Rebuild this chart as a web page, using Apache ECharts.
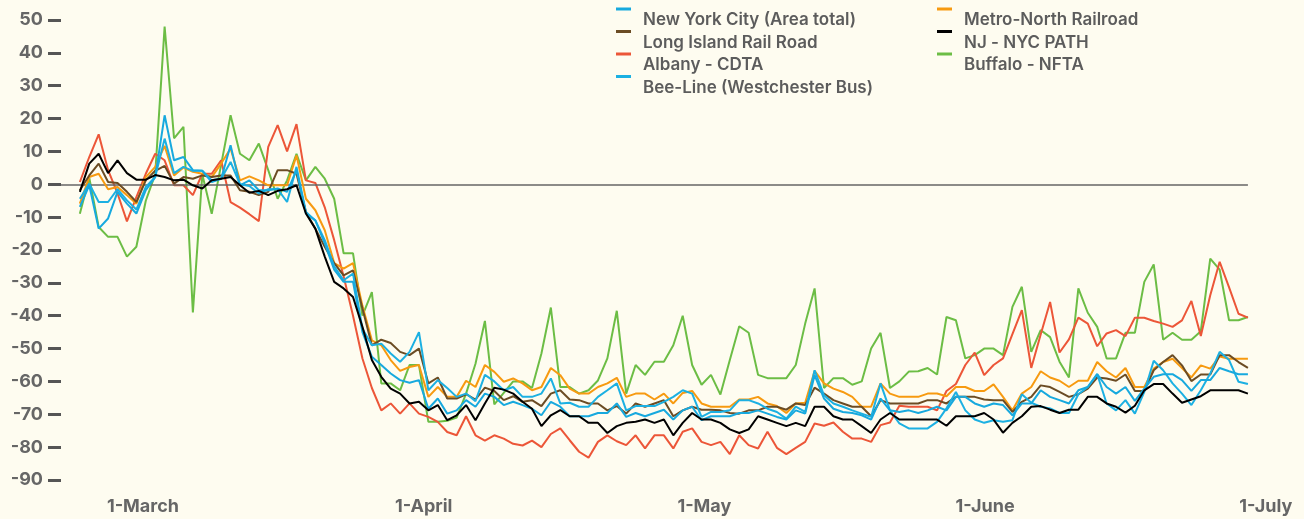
<!DOCTYPE html>
<html>
<head>
<meta charset="utf-8">
<script src="https://cdn.jsdelivr.net/npm/echarts@6/dist/echarts.min.js"></script>
<style>
  html, body { margin: 0; padding: 0; background: #fefcf0; }
  #chart { width: 1304px; height: 519px; }
</style>
</head>
<body>
<div id="chart"></div>
<script>
// x = day index from the first reading; month labels sit evenly spaced like the original
const tickLabels = ['1-March', '1-April', '1-May', '1-June', '1-July']
const tickPositions = [6.7, 36.5, 66.3, 96.1, 125.9]

const nyc = [-6.9, -0.3, -13.5, -10.4, -2.3, -5.9, -8.9, -1.8, 2.2, 21,
  7.3, 8.3, 4.3, 4.1, 0.7, 1.7, 11.9, -0.3, 1.2, -1.8,
  -1.8, -1.3, -2.3, 4.3, -8.9, -11, -18, -26, -29.7, -29.7,
  -45, -52.5, -55, -57.6, -59.6, -60.4, -59.6, -68.3, -65.2, -69.8,
  -68.8, -65.7, -67.7, -63.7, -64.7, -67.2, -66.2, -67.2, -68.3, -70.3,
  -66.2, -67.7, -70.6, -70.6, -70.6, -69.6, -69.6, -66.7, -70.8, -69.6,
  -70.6, -69.6, -68.6, -71.6, -68.8, -67.7, -71.8, -70.6, -70.6, -70.6,
  -69.6, -69.6, -68.8, -69.8, -70.8, -71.6, -68.8, -69.8, -58.1, -65.2,
  -68.3, -69.3, -69.6, -70.3, -71.6, -65.2, -68.8, -69.3, -68.8, -69.6,
  -68.8, -67.7, -68.8, -64.7, -64.7, -66.7, -67.7, -66.7, -67.2, -70.3,
  -66.7, -66.7, -62.7, -64.7, -65.7, -66.7, -62.7, -61.7, -57.8, -61.7,
  -63.7, -61.7, -65.9, -62.2, -58.6, -57.8, -57.8, -59.6, -62.9, -59.6,
  -59.6, -55.9, -56.9, -57.8, -57.8]

const lirr = [-1.8, 2.7, 6.3, 0.7, 0.4, -2.3, -5.4, 1.2, 4.1, 5.6,
  0.2, 2.2, 1.7, 2.7, 2.2, 2.7, 2.7, -1.8, -2.3, -3.3,
  -2.3, 4.3, 4.3, 3.2, -8.4, -13.5, -19, -24, -27.7, -26.2,
  -37.8, -49, -47.3, -48.3, -51, -52, -50, -60.6, -58.8, -65.2,
  -65.2, -63.9, -65.5, -61.9, -62.9, -65.7, -64.5, -66.2, -65.7, -67.5,
  -63.7, -62.7, -65.5, -65.7, -66.7, -66.7, -68.8, -67.5, -69.8, -66.7,
  -67.7, -66.7, -65.7, -70.6, -68.8, -67.7, -68.6, -68.6, -68.8, -69.6,
  -69.8, -68.8, -68.8, -67.7, -67.7, -68.6, -66.7, -67.2, -61.9, -63.7,
  -65.7, -66.7, -67.7, -67.7, -70.6, -65.7, -66.7, -66.7, -66.7, -66.7,
  -65.7, -65.7, -66.7, -64.7, -64.7, -64.7, -65.5, -65.7, -65.7, -69.3,
  -66.2, -64.7, -61.2, -61.7, -63.2, -64.7, -63.9, -62.2, -58.8, -59.1,
  -59.8, -57.9, -62.9, -62.9, -56.6, -54.1, -52, -55.1, -59.9, -57.9,
  -57.9, -52, -52, -54.1, -55.9]

const albany = [0.7, 8.3, 15.2, 4.3, -2.8, -11.3, -3.9, 3.2, 9.3, 7.3,
  -0.3, -0.3, -3.3, 3.2, 3.2, 7.3, -5.4, -7.1, -9.1, -11.2,
  11.4, 18, 10, 18.3, 1.2, 0.4, -7, -17, -28, -40,
  -53, -62, -68.8, -66.7, -69.8, -66.7, -69.8, -70.8, -72.3, -75.4,
  -76.4, -70.6, -76.4, -78, -76.4, -77.4, -79, -79.5, -78, -80,
  -76, -74.3, -77.9, -81.4, -83.2, -78.4, -76.4, -78.2, -79.4, -76.4,
  -80.4, -76.4, -76.4, -80.4, -75.3, -74.3, -78.4, -79.4, -78.4, -82.1,
  -76.4, -79.4, -80.4, -75.3, -80.2, -82.1, -80.2, -78.4, -72.8, -73.5,
  -72.5, -75.3, -77.4, -77.4, -78.4, -73.3, -72.5, -67.4, -67.7, -67.7,
  -67.7, -68.8, -62.9, -60.8, -55, -51.2, -58.1, -55, -53, -45.6,
  -38.3, -55.9, -45.7, -35.8, -51.2, -47.2, -40.6, -42.4, -49.3, -45.4,
  -44.4, -46.2, -40.6, -40.6, -41.6, -42.4, -43.4, -41.4, -35.5, -46.2,
  -33.8, -23.6, -31.4, -39.4, -40.6]

const beeLine = [-4.4, 0.2, -5.4, -5.4, -1.5, -4.9, -7.7, -0.8, 2.2, 13.9,
  3.4, 5.3, 4.1, 4.1, 1.2, 1.7, 6.8, 0, -0.5, -2.8,
  -1.5, -1.5, -5.4, 5.3, -8.4, -11, -17, -25, -29.2, -27.2,
  -44, -49, -48.5, -51.5, -54, -51, -45, -62.7, -59.6, -62,
  -64.7, -63.7, -66, -58, -60, -62.7, -61.7, -64.7, -64.7, -63.7,
  -59.1, -66.7, -66.5, -67.7, -67.7, -64.7, -62.7, -60.6, -68.8, -67.5,
  -67.5, -67.5, -66.2, -64.7, -62.7, -63.7, -70.8, -69.3, -69.3, -68.8,
  -65.7, -65.7, -66.7, -68.3, -69.3, -71.3, -67.7, -69.3, -56.6, -64.2,
  -66.7, -67.7, -68.8, -69.8, -70.8, -60.6, -68.8, -72.8, -74.3, -74.3,
  -74.3, -72.3, -68.2, -63.2, -68.8, -71.6, -72.6, -71.8, -72.3, -71.8,
  -63.9, -66.5, -67.7, -68.2, -69.6, -69.6, -63.9, -61.7, -57.8, -66.7,
  -68.8, -65.7, -69.8, -63.2, -53.7, -56.6, -60.6, -63.7, -67.2, -62.7,
  -57.6, -51, -53.5, -60.1, -60.8]

const metroNorth = [-5.9, 2.2, 3.2, -1.5, -0.8, -3.3, -5.9, 2.2, 5.3, 11.7,
  2.7, 5.1, 3.8, 3.2, 2.2, 6.3, 10.9, 1.2, 2.4, 1.2,
  -0.3, -0.3, -0.3, 8.8, -4.4, -7.9, -14, -24, -25.7, -24,
  -37, -47.5, -49, -53.5, -56.8, -55.6, -55, -64.7, -61.7, -64.7,
  -64.7, -59.8, -61.7, -55, -57.1, -60.1, -59.1, -60.6, -62.7, -61.7,
  -55.9, -58.1, -62.2, -63.7, -63.7, -61.7, -60.6, -58.9, -64.7, -63.7,
  -63.7, -65.5, -63.7, -66.7, -63.5, -62.9, -66.7, -67.7, -67.7, -67.7,
  -65.5, -65.5, -64.7, -66.7, -67.5, -69.6, -66.7, -66.5, -56.8, -60.6,
  -62.2, -63.2, -64.7, -67.7, -67.7, -60.6, -63.7, -64.7, -64.7, -64.7,
  -63.7, -63.7, -64.5, -61.7, -61.7, -62.9, -62.9, -60.9, -64.7, -68.8,
  -63.7, -61.7, -56.9, -58.8, -59.8, -61.7, -59.8, -59.8, -54.1, -56.9,
  -58.8, -55.9, -61.7, -61.7, -56.1, -54.1, -53.1, -55.9, -58.8, -55.1,
  -56.1, -52.4, -53.1, -53.1, -53.1]

const path = [-2.3, 6.3, 9.3, 3.4, 7.3, 3.4, 1.4, 1.4, 2.8, 2.2,
  1.2, 1.4, -0.3, -1.3, 1.2, 1.7, 2.2, -0.3, -2.6, -2,
  -3.3, -2, -1.5, -0.3, -8.9, -13.5, -22, -29.7, -31.7, -34.3,
  -43.4, -53.5, -58.6, -62.2, -63.7, -66.7, -66.2, -68.8, -67.2, -71.8,
  -70.3, -67.2, -71.8, -66.7, -61.9, -62.5, -63.7, -66.2, -68.3, -73.6,
  -70.3, -68.7, -70.6, -70.6, -72.6, -72.6, -75.7, -73.6, -72.6, -72.3,
  -71.6, -72.6, -71.6, -76.4, -72.6, -69.6, -71.6, -71.6, -72.6, -74.6,
  -75.7, -74.6, -70.6, -71.6, -72.6, -73.6, -72.6, -73.6, -67.7, -67.7,
  -70.6, -71.6, -71.6, -73.6, -75.7, -71.6, -69.6, -71.6, -71.6, -71.6,
  -71.6, -71.6, -73.5, -70.6, -70.6, -70.6, -69.6, -71.6, -75.6, -72.6,
  -70.6, -67.7, -67.5, -68.6, -69.6, -68.6, -68.6, -64.7, -64.7, -66.7,
  -67.7, -69.5, -67.4, -62.7, -60.8, -60.8, -63.7, -66.5, -65.5, -64.5,
  -62.7, -62.7, -62.7, -62.7, -63.7]

const buffalo = [-9, 2, -13, -16, -16, -22, -19, -5, 3, 48,
  14, 17.5, -39, 3, -9, 6, 21, 9.3, 7.3, 12.4,
  4.3, -4.4, 1.2, 9.3, 1.2, 5.3, 1.7, -4.4, -21, -21,
  -40, -32.8, -60.6, -60.6, -62.7, -55, -55, -72.3, -72.3, -72,
  -71, -63.7, -54.6, -41.6, -67, -63.5, -60, -60, -62, -51.5,
  -37.5, -61.7, -61.7, -63.7, -62.7, -59.7, -53, -38.5, -63.7, -55,
  -58, -54, -54, -49, -40, -55, -61, -58, -64, -53.5,
  -43.2, -45.2, -58, -59, -59, -59, -55, -42.4, -31.7, -62,
  -59, -59, -61, -60, -50, -45.2, -62, -60, -57, -56.9,
  -55.9, -57.9, -40.4, -41.4, -53, -52, -50, -50, -52, -37.3,
  -31.2, -51, -44.4, -46.5, -54, -58.8, -31.7, -39.1, -43.4, -53,
  -53, -45.2, -45.2, -29.7, -24.4, -47.3, -45.2, -47.3, -47.3, -44.7,
  -22.6, -26, -41.4, -41.4, -40.4]

const lines = [
  { name: 'Buffalo - NFTA', values: buffalo, color: '#6cbd45' },
  { name: 'Albany - CDTA', values: albany, color: '#ec5638' },
  { name: 'Metro-North Railroad', values: metroNorth, color: '#f79a10' },
  { name: 'Long Island Rail Road', values: lirr, color: '#6b4c24' },
  { name: 'Bee-Line (Westchester Bus)', values: beeLine, color: '#1cb0e2' },
  { name: 'New York City (Area total)', values: nyc, color: '#17a9de' },
  { name: 'NJ - NYC PATH', values: path, color: '#000000' },
]

const lastDay = nyc.length - 1
const font = 'Inter, "Noto Sans", sans-serif'
const legendIcon = 'path://M0,0h15v3h-15z M21.99,24.99h0.01v0.01h-0.01z'

const legendBase = {
  orient: 'vertical',
  top: 7.5,
  padding: 0,
  itemWidth: 22,
  itemHeight: 25,
  itemGap: -2.5,
  icon: legendIcon,
  selectedMode: false,
  itemStyle: { borderWidth: 0 },
  textStyle: { color: '#5c5c5c', fontSize: 17, fontWeight: 600, fontFamily: font },
}

const chart = echarts.init(document.getElementById('chart'))
chart.setOption({
  animation: false,
  backgroundColor: '#fefcf0',
  textStyle: { fontFamily: font },
  grid: { left: 61, right: 18.4, top: 20, bottom: 39, containLabel: false, outerBoundsMode: 'none' },
  legend: [
    { ...legendBase, left: 616, data: ['New York City (Area total)', 'Long Island Rail Road', 'Albany - CDTA', 'Bee-Line (Westchester Bus)'] },
    { ...legendBase, left: 937, data: ['Metro-North Railroad', 'NJ - NYC PATH', 'Buffalo - NFTA'] },
  ],
  xAxis: {
    type: 'value',
    min: -2,
    max: 128,
    axisLine: { show: false, onZero: false },
    axisTick: { show: false },
    splitLine: { show: false },
    axisLabel: {
      customValues: tickPositions,
      formatter: (v) => {
        let best = 0
        tickPositions.forEach((p, i) => { if (Math.abs(p - v) < Math.abs(tickPositions[best] - v)) best = i })
        return tickLabels[best]
      },
      color: '#666',
      fontSize: 18,
      fontWeight: 700,
      fontFamily: font,
      margin: 18,
    },
  },
  yAxis: {
    type: 'value',
    min: -90,
    max: 50,
    interval: 10,
    axisLine: { show: false, onZero: false },
    axisTick: { show: true, length: 13, lineStyle: { color: '#555', width: 3 } },
    splitLine: { show: false },
    axisLabel: { color: '#666', fontSize: 18, fontWeight: 700, fontFamily: font, margin: 18 },
  },
  series: lines.map((s, k) => ({
    name: s.name,
    type: 'line',
    data: s.values.map((v, i) => [i, v]),
    showSymbol: false,
    symbol: 'none',
    color: s.color,
    lineStyle: { color: s.color, width: 2 },
    z: 3 + k,
    markLine: k === 0 ? {
      silent: true,
      symbol: 'none',
      label: { show: false },
      lineStyle: { color: '#666', width: 1.5, type: 'solid' },
      data: [[{ coord: [-2, 0] }, { coord: [lastDay, 0] }]],
    } : undefined,
  })),
})
</script>
</body>
</html>
